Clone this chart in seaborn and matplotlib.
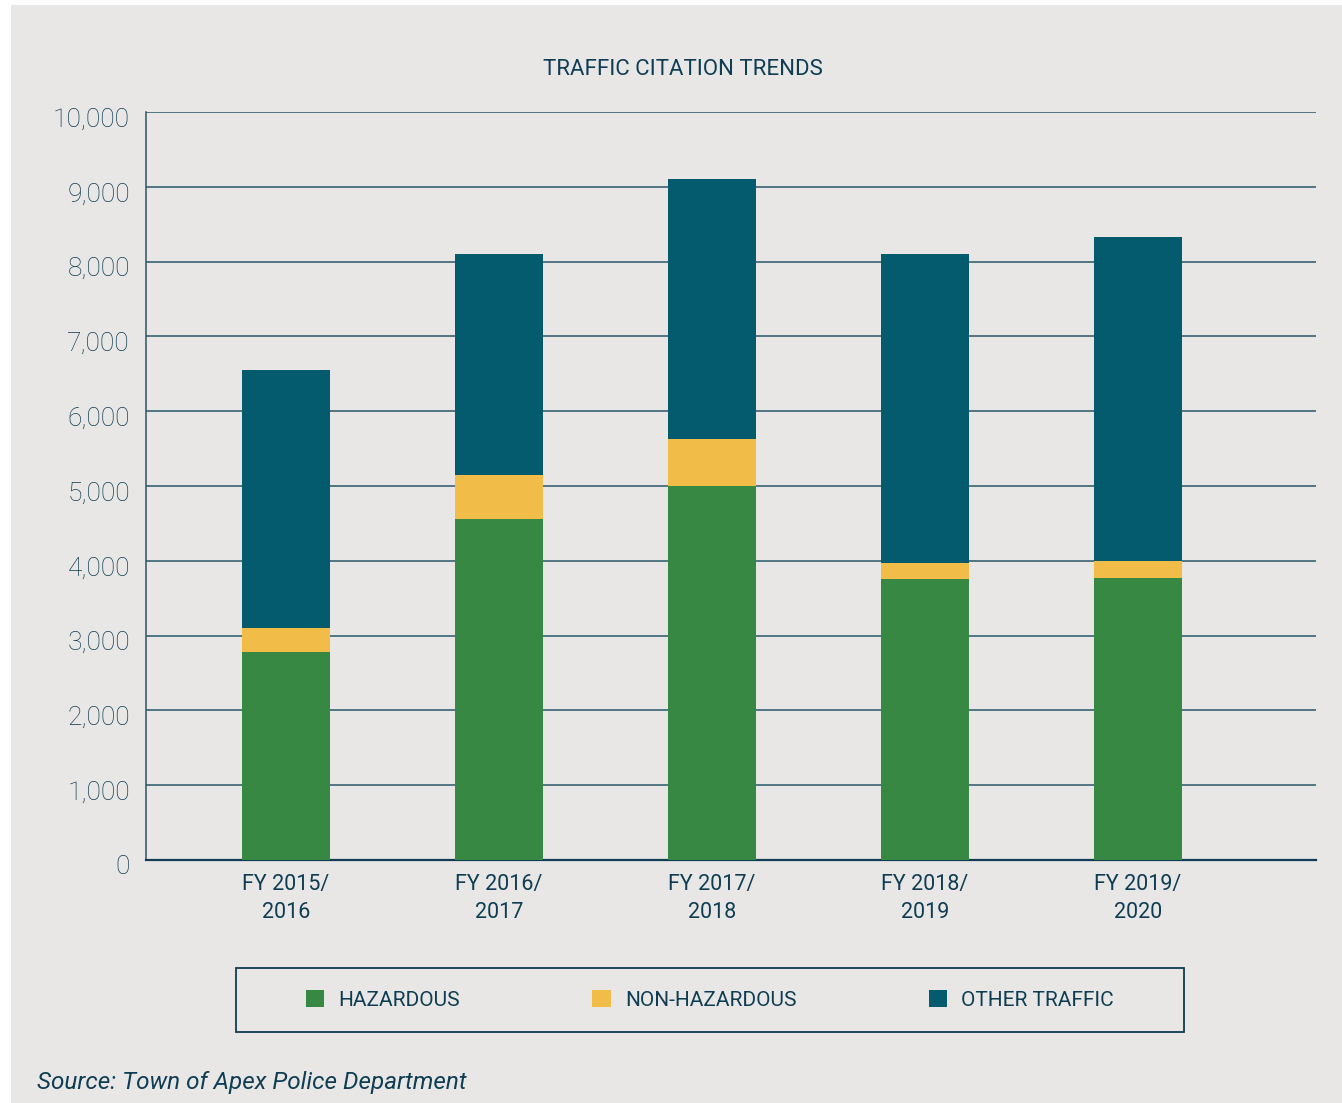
import matplotlib
matplotlib.use("Agg")
import matplotlib.pyplot as plt
import matplotlib.transforms as mtransforms
from matplotlib.patches import Patch, Rectangle
import seaborn as sns
import pandas as pd

# ---- data ----
years = ["FY 2015/\n2016", "FY 2016/\n2017", "FY 2017/\n2018", "FY 2018/\n2019", "FY 2019/\n2020"]
hazardous = [2780, 4560, 5000, 3760, 3770]
non_hazardous = [320, 590, 630, 210, 230]
other_traffic = [3450, 2950, 3470, 4130, 4330]
series_names = ["HAZARDOUS", "NON-HAZARDOUS", "OTHER TRAFFIC"]
y_ticks = [0, 1000, 2000, 3000, 4000, 5000, 6000, 7000, 8000, 9000, 10000]

# ---- style ----
BG = "#E8E7E5"
GREEN = "#378842"
YELLOW = "#F2BC49"
TEAL = "#055B6E"
TEXT = "#0E3D54"
GRID = "#2A5669"

sns.set_theme(style="white")
plt.rcParams["font.family"] = ["Roboto", "DejaVu Sans"]

W, H = 1342, 1103
fig = plt.figure(figsize=(W / 100, H / 100), dpi=100)
fig.patch.set_facecolor("white")
fig.patches.append(Rectangle((11 / W, 0), 1 - 11 / W, 1 - 5 / H, transform=fig.transFigure,
                             facecolor=BG, edgecolor="none", zorder=-10))

ax = fig.add_axes([146 / W, 1 - 860 / H, (1316 - 146) / W, (860 - 112) / H])
ax.set_facecolor(BG)

df = pd.DataFrame({"year": years, "haz": hazardous, "non": non_hazardous, "oth": other_traffic})
df["c1"] = df["haz"]
df["c2"] = df["haz"] + df["non"]
df["c3"] = df["c2"] + df["oth"]

bw = 88 / 213
for col, colr in [("c3", TEAL), ("c2", YELLOW), ("c1", GREEN)]:
    sns.barplot(data=df, x="year", y=col, color=colr, saturation=1, width=bw,
                errorbar=None, ax=ax, zorder=3, linewidth=0)

ax.set_xlim((146 - 286) / 213, (1316 - 286) / 213)
ax.set_ylim(0, 10000)
ax.set_xlabel("")
ax.set_ylabel("")
ax.set_axisbelow(True)
ax.yaxis.grid(True, color=GRID, linewidth=1.1)
ax.xaxis.grid(False)

for s in ["top", "right"]:
    ax.spines[s].set_visible(False)
ax.spines["left"].set_color(GRID)
ax.spines["left"].set_linewidth(1.1)
ax.spines["bottom"].set_color(TEXT)
ax.spines["bottom"].set_linewidth(1.6)

ax.set_yticks(y_ticks)
ax.set_yticklabels([f"{v:,}" for v in y_ticks])
ax.tick_params(axis="y", length=0, pad=11.5, labelsize=19, labelcolor=TEXT)
ax.tick_params(axis="x", length=0, pad=10, labelsize=15.5, labelcolor=TEXT)
offset = mtransforms.ScaledTranslation(0, -5 / 100, fig.dpi_scale_trans)
for lab in ax.get_yticklabels():
    lab.set_fontweight("light")
    lab.set_transform(lab.get_transform() + offset)
for lab in ax.get_xticklabels():
    lab.set_linespacing(1.45)

# title
fig.text(683 / W, 1 - 75 / H, "TRAFFIC CITATION TRENDS", ha="center", va="baseline",
         fontsize=16, color=TEXT)

# legend frame
fig.patches.append(Rectangle((236 / W, 1 - 1032 / H), (1184 - 236) / W, 64 / H,
                             transform=fig.transFigure, facecolor="none",
                             edgecolor=TEXT, linewidth=1.3, zorder=5))
handles = [Patch(facecolor=c, edgecolor="none") for c in [GREEN, YELLOW, TEAL]]
fig.legend(handles, series_names, loc="center",
           bbox_to_anchor=(306 / W, 1 - 1032 / H, (1114 - 306) / W, 64 / H),
           mode="expand", ncol=3, frameon=False, borderpad=0, borderaxespad=0,
           handlelength=0.87, handleheight=0.87, handletextpad=0.7,
           fontsize=15, labelcolor=TEXT)

# source
fig.text(37 / W, 1 - 1089 / H, "Source: Town of Apex Police Department", ha="left",
         va="baseline", fontsize=17.5, style="italic", color=TEXT)

fig.savefig("out.png", dpi=100, facecolor=fig.get_facecolor())
